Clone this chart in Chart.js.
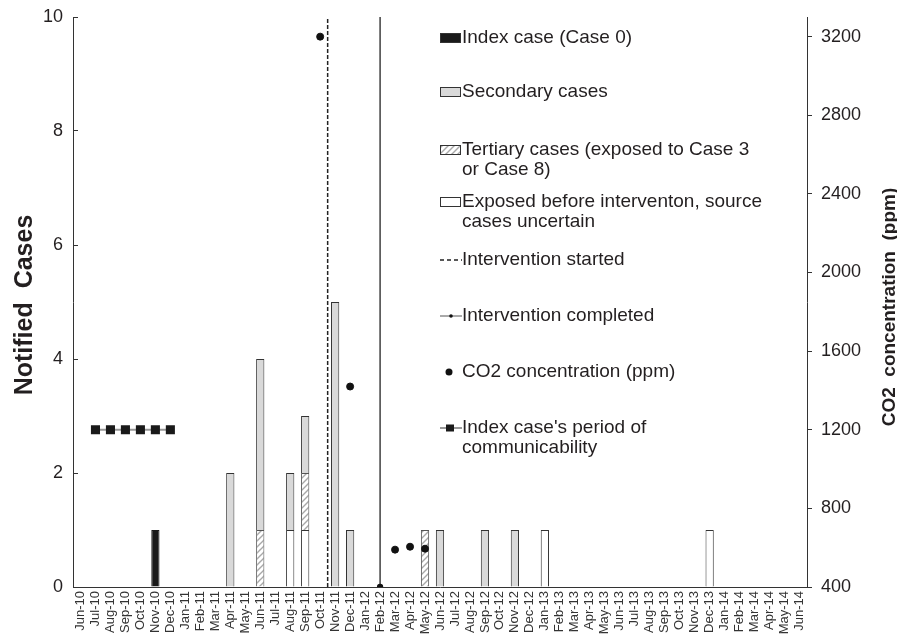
<!DOCTYPE html>
<html>
<head>
<meta charset="utf-8">
<script src="https://cdn.jsdelivr.net/npm/chart.js@4.4.1/dist/chart.umd.min.js"></script>
<style>
  html, body { margin: 0; padding: 0; background: #fff; }
  #wrap { width: 897px; height: 636px; position: relative; }
</style>
</head>
<body>
<div id="wrap"><canvas id="chart"></canvas></div>
<script>
// Months on the x axis (Jun-10 .. Jun-14)
const months = [
    'Jun-10', 'Jul-10', 'Aug-10', 'Sep-10', 'Oct-10', 'Nov-10', 'Dec-10',
    'Jan-11', 'Feb-11', 'Mar-11', 'Apr-11', 'May-11', 'Jun-11', 'Jul-11', 'Aug-11', 'Sep-11', 'Oct-11', 'Nov-11', 'Dec-11',
    'Jan-12', 'Feb-12', 'Mar-12', 'Apr-12', 'May-12', 'Jun-12', 'Jul-12', 'Aug-12', 'Sep-12', 'Oct-12', 'Nov-12', 'Dec-12',
    'Jan-13', 'Feb-13', 'Mar-13', 'Apr-13', 'May-13', 'Jun-13', 'Jul-13', 'Aug-13', 'Sep-13', 'Oct-13', 'Nov-13', 'Dec-13',
    'Jan-14', 'Feb-14', 'Mar-14', 'Apr-14', 'May-14', 'Jun-14'
];

// Notified cases per month (one row per year)
const exposedCases = [
    null, null, null, null, null, null, null,
    null, null, null, null, null, null, null, 1, 1, null, null, null,
    null, null, null, null, null, null, null, null, null, null, null, null,
    1, null, null, null, null, null, null, null, null, null, null, 1,
    null, null, null, null, null, null
];
const tertiaryCases = [
    null, null, null, null, null, null, null,
    null, null, null, null, null, 1, null, null, 1, null, null, null,
    null, null, null, null, 1, null, null, null, null, null, null, null,
    null, null, null, null, null, null, null, null, null, null, null, null,
    null, null, null, null, null, null
];
const secondaryCases = [
    null, null, null, null, null, null, null,
    null, null, null, 2, null, 3, null, 1, 1, null, 5, 1,
    null, null, null, null, null, 1, null, null, 1, null, 1, null,
    null, null, null, null, null, null, null, null, null, null, null, null,
    null, null, null, null, null, null
];
const indexCase = [
    null, null, null, null, null, 1, null,
    null, null, null, null, null, null, null, null, null, null, null, null,
    null, null, null, null, null, null, null, null, null, null, null, null,
    null, null, null, null, null, null, null, null, null, null, null, null,
    null, null, null, null, null, null
];

// CO2 concentration (ppm), right axis
const co2Ppm = [
    null, null, null, null, null, null, null,
    null, null, null, null, null, null, null, null, null, 3200, null, 1420,
    null, null, 590, 605, 595, null, null, null, null, null, null, null,
    null, null, null, null, null, null, null, null, null, null, null, null,
    null, null, null, null, null, null
];

// Index case's period of communicability (drawn at 1200 ppm level)
const communicability = [
    null, 1200, 1200, 1200, 1200, 1200, 1200,
    null, null, null, null, null, null, null, null, null, null, null, null,
    null, null, null, null, null, null, null, null, null, null, null, null,
    null, null, null, null, null, null, null, null, null, null, null, null,
    null, null, null, null, null, null
];

// Interventions (month index on the x axis)
const interventionStarted = months.indexOf('Nov-11') - 0.5;   // Oct/Nov 2011 boundary
const interventionCompleted = months.indexOf('Feb-12');

const leftTicks = [0, 2, 4, 6, 8, 10];
const rightTicks = [400, 800, 1200, 1600, 2000, 2400, 2800, 3200];

const legendLabels = [
    ['Index case (Case 0)'],
    ['Secondary cases'],
    ['Tertiary cases (exposed to Case 3', 'or Case 8)'],
    ['Exposed before interventon, source', 'cases uncertain'],
    ['Intervention started'],
    ['Intervention completed'],
    ['CO2 concentration (ppm)'],
    ["Index case's period of", 'communicability']
];

const FONT = '"Liberation Sans", Arial, Helvetica, sans-serif';
const INK = '#231f20';

// Diagonal hatch for tertiary cases
function makeHatch() {
    const c = document.createElement('canvas');
    c.width = 6; c.height = 6;
    const g = c.getContext('2d');
    g.fillStyle = '#fff';
    g.fillRect(0, 0, 6, 6);
    g.strokeStyle = '#a8a8a8';
    g.lineWidth = 1.4;
    g.beginPath();
    g.moveTo(0, 6); g.lineTo(6, 0);
    g.moveTo(-3, 3); g.lineTo(3, -3);
    g.moveTo(3, 9); g.lineTo(9, 3);
    g.stroke();
    return g.createPattern(c, 'repeat');
}
const hatch = makeHatch();

// Side legend + rotated axis titles
const decorPlugin = {
    id: 'decor',
    afterDraw(chart) {
        const ctx = chart.ctx;
        ctx.save();

        // axis titles (both read bottom-to-top)
        ctx.fillStyle = INK;
        ctx.textAlign = 'center';
        ctx.textBaseline = 'alphabetic';
        ctx.save();
        ctx.translate(32, 305);
        ctx.rotate(-Math.PI / 2);
        ctx.font = 'bold 25px ' + FONT;
        ctx.fillText('Notified  Cases', 0, 0);
        ctx.restore();
        ctx.save();
        ctx.translate(895, 307);
        ctx.rotate(-Math.PI / 2);
        ctx.font = 'bold 19px ' + FONT;
        ctx.fillText('CO2  concentration  (ppm)', 0, 0);
        ctx.restore();

        // legend
        const rows = [38, 92, 150, 202, 260, 316, 372, 428];
        const x0 = 440, x1 = 462;
        ctx.font = '19px ' + FONT;
        ctx.textAlign = 'left';
        ctx.textBaseline = 'middle';
        legendLabels.forEach((lines, i) => {
            const y = rows[i];
            ctx.lineWidth = 1;
            ctx.setLineDash([]);
            if (i <= 3) {
                const fills = ['#1a1a1a', '#d9d9d9', hatch, '#ffffff'];
                ctx.fillStyle = fills[i];
                ctx.fillRect(x0, y - 5, x1 - x0 - 1, 10);
                ctx.strokeStyle = '#333';
                ctx.strokeRect(x0 + 0.5, y - 4.5, x1 - x0 - 2, 9);
            } else if (i === 4) {
                ctx.strokeStyle = '#222';
                ctx.lineWidth = 1.5;
                ctx.setLineDash([4, 3]);
                ctx.beginPath(); ctx.moveTo(x0, y); ctx.lineTo(x1, y); ctx.stroke();
            } else if (i === 5) {
                ctx.strokeStyle = '#555';
                ctx.beginPath(); ctx.moveTo(x0, y); ctx.lineTo(x1, y); ctx.stroke();
                ctx.fillStyle = '#111';
                ctx.beginPath(); ctx.arc(451, y, 1.8, 0, Math.PI * 2); ctx.fill();
            } else if (i === 6) {
                ctx.fillStyle = '#111';
                ctx.beginPath(); ctx.arc(449, y, 3.5, 0, Math.PI * 2); ctx.fill();
            } else {
                ctx.strokeStyle = '#999';
                ctx.lineWidth = 2;
                ctx.beginPath(); ctx.moveTo(x0, y); ctx.lineTo(x1, y); ctx.stroke();
                ctx.fillStyle = '#1a1a1a';
                ctx.fillRect(446, y - 3.5, 8, 7);
            }
            ctx.fillStyle = INK;
            lines.forEach((t, k) => ctx.fillText(t, x1, y + k * 20));
        });
        ctx.restore();
    }
};

const barBase = { type: 'bar', stack: 'cases', grouped: false, borderWidth: 1, borderColor: '#333', order: 2 };

new Chart(document.getElementById('chart'), {
    type: 'bar',
    data: {
        labels: months,
        datasets: [
            { ...barBase, label: 'Exposed', data: exposedCases, backgroundColor: '#ffffff' },
            { ...barBase, label: 'Tertiary', data: tertiaryCases, backgroundColor: hatch, borderColor: '#555' },
            { ...barBase, label: 'Secondary', data: secondaryCases, backgroundColor: '#d9d9d9' },
            { ...barBase, label: 'Index', data: indexCase, backgroundColor: '#1a1a1a', borderColor: '#1a1a1a' },
            {
                type: 'line', label: 'Communicability', data: communicability, yAxisID: 'y2',
                borderColor: '#9a9a9a', borderWidth: 2, pointStyle: 'rect', pointRadius: 5,
                pointBackgroundColor: '#1a1a1a', pointBorderColor: '#1a1a1a', order: 0
            },
            {
                type: 'line', label: 'CO2', data: co2Ppm, yAxisID: 'y2', showLine: false,
                pointRadius: 3.5, pointBackgroundColor: '#111', pointBorderColor: '#111', order: 0
            },
            {
                type: 'line', label: 'Intervention started', xAxisID: 'xl', yAxisID: 'y',
                data: [{ x: interventionStarted, y: 0 }, { x: interventionStarted, y: 10 }],
                borderColor: '#222', borderWidth: 1.5, borderDash: [4, 2], pointRadius: 0, order: 0
            },
            {
                type: 'line', label: 'Intervention completed', xAxisID: 'xl', yAxisID: 'y',
                data: [{ x: interventionCompleted, y: 0 }, { x: interventionCompleted, y: 10 }],
                borderColor: '#222', borderWidth: 1.3, pointRadius: [2.5, 0],
                pointBackgroundColor: '#111', pointBorderColor: '#111', order: 0
            }
        ]
    },
    options: {
        responsive: true,
        maintainAspectRatio: false,
        animation: false,
        layout: { padding: { top: 17, left: 0, right: 0, bottom: 0 } },
        datasets: { bar: { barPercentage: 0.55, categoryPercentage: 1 } },
        plugins: { legend: { display: false }, tooltip: { enabled: false } },
        scales: {
            x: {
                type: 'category',
                offset: true,
                stacked: true,
                grid: { display: false, drawTicks: false },
                border: { display: true, color: '#333', width: 1 },
                ticks: {
                    autoSkip: false, minRotation: 90, maxRotation: 90, padding: 4,
                    color: '#333', font: { family: FONT, size: 13 }
                },
                afterFit: s => { s.height = 49; }
            },
            xl: { type: 'linear', display: false, offset: false, min: -0.5, max: months.length - 0.5 },
            y: {
                position: 'left',
                stacked: true,
                min: 0, max: 10,
                afterBuildTicks: s => { s.ticks = leftTicks.map(v => ({ value: v })); },
                grid: { drawOnChartArea: false, tickLength: -5, color: '#333' },
                border: { color: '#333', width: 1 },
                ticks: { padding: 15, color: INK, font: { family: FONT, size: 18 }, callback: v => String(v) },
                afterFit: s => { s.width = 73; s.paddingTop = 0; s.paddingBottom = 0; }
            },
            y2: {
                position: 'right',
                min: 400, max: 3300,
                afterBuildTicks: s => { s.ticks = rightTicks.map(v => ({ value: v })); },
                grid: { drawOnChartArea: false, tickLength: 5, color: '#333' },
                border: { color: '#333', width: 1 },
                ticks: { padding: 9, color: INK, font: { family: FONT, size: 18 }, callback: v => String(v) },
                afterFit: s => { s.width = 90; s.paddingTop = 0; s.paddingBottom = 0; }
            }
        }
    },
    plugins: [decorPlugin]
});
</script>
</body>
</html>
